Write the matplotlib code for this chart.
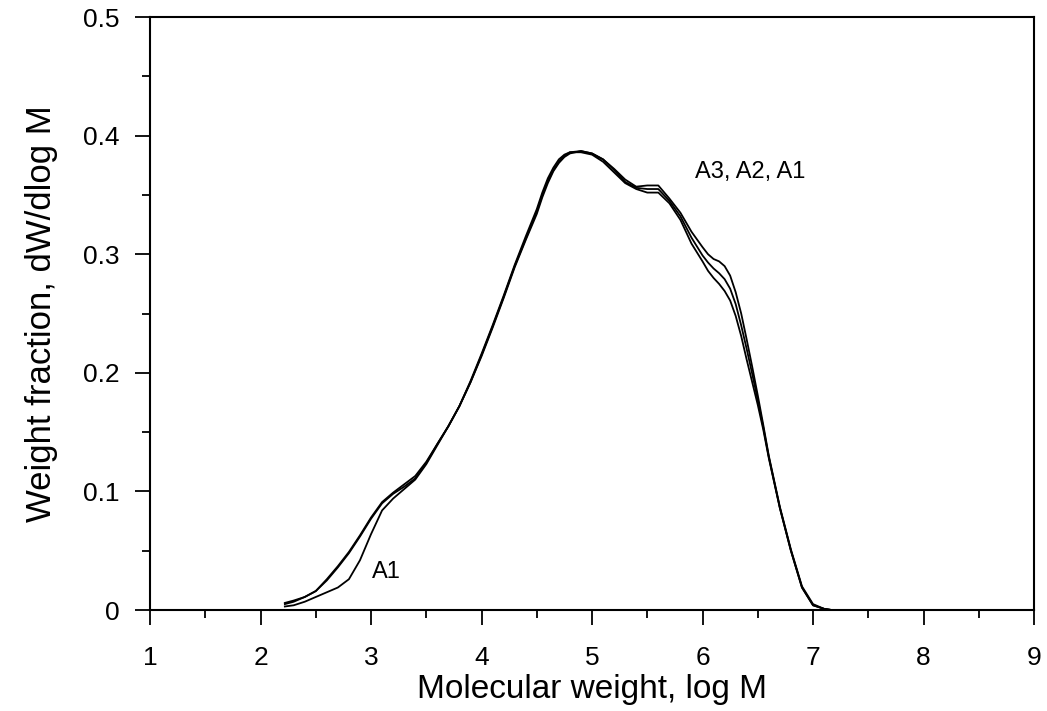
import numpy as np
import matplotlib
matplotlib.use("Agg")
import matplotlib.pyplot as plt
from matplotlib.ticker import MultipleLocator, FuncFormatter

plt.rcParams['font.family'] = ['Liberation Sans', 'DejaVu Sans']

# log M grid shared by the three curves
log_m = [2.22, 2.3, 2.4, 2.5, 2.6, 2.7, 2.8, 2.9, 3.0, 3.1, 3.2, 3.3, 3.4, 3.5,
         3.6, 3.7, 3.8, 3.9, 4.0, 4.1, 4.2, 4.3, 4.4, 4.5, 4.55, 4.6, 4.65,
         4.7, 4.75, 4.8, 4.9, 5.0, 5.1, 5.2, 5.3, 5.4, 5.5, 5.6, 5.7, 5.8,
         5.9, 6.0, 6.05, 6.1, 6.15, 6.2, 6.25, 6.3, 6.35, 6.4, 6.45, 6.5,
         6.55, 6.6, 6.7, 6.8, 6.9, 7.0, 7.1, 7.17]

a3 = [0.006, 0.008, 0.011, 0.016, 0.025, 0.036, 0.048, 0.062, 0.077, 0.090,
      0.098, 0.104, 0.111, 0.124, 0.140, 0.155, 0.172, 0.192, 0.214, 0.238,
      0.263, 0.289, 0.312, 0.334, 0.348, 0.360, 0.370, 0.377, 0.382, 0.385,
      0.387, 0.385, 0.380, 0.372, 0.363, 0.357, 0.358, 0.358, 0.347, 0.335,
      0.319, 0.306, 0.300, 0.296, 0.294, 0.290, 0.282, 0.268, 0.250, 0.228,
      0.205, 0.181, 0.156, 0.130, 0.087, 0.051, 0.020, 0.005, 0.001, 0.0]

a2 = [0.005, 0.007, 0.011, 0.016, 0.026, 0.037, 0.049, 0.063, 0.078, 0.091,
      0.099, 0.106, 0.113, 0.125, 0.140, 0.155, 0.172, 0.192, 0.215, 0.239,
      0.264, 0.290, 0.313, 0.336, 0.350, 0.362, 0.371, 0.378, 0.383, 0.386,
      0.387, 0.385, 0.380, 0.371, 0.361, 0.356, 0.355, 0.355, 0.345, 0.332,
      0.314, 0.299, 0.293, 0.288, 0.284, 0.279, 0.271, 0.258, 0.240, 0.220,
      0.199, 0.177, 0.154, 0.129, 0.086, 0.050, 0.019, 0.004, 0.001, 0.0]

a1 = [0.003, 0.004, 0.007, 0.011, 0.015, 0.019, 0.026, 0.042, 0.064, 0.084,
      0.094, 0.102, 0.110, 0.123, 0.139, 0.155, 0.172, 0.193, 0.216, 0.240,
      0.265, 0.291, 0.315, 0.338, 0.352, 0.364, 0.373, 0.380, 0.384, 0.386,
      0.386, 0.384, 0.378, 0.369, 0.360, 0.355, 0.352, 0.352, 0.343, 0.329,
      0.309, 0.294, 0.286, 0.280, 0.275, 0.269, 0.261, 0.248, 0.231, 0.211,
      0.192, 0.173, 0.152, 0.128, 0.086, 0.050, 0.019, 0.004, 0.001, 0.0]

fig = plt.figure(figsize=(10.47, 7.11), dpi=100)
ax = fig.add_axes([0.1433, 0.142, 0.8443, 0.834])

for y in (a3, a2, a1):
    ax.plot(log_m, y, color='black', lw=1.3)

ax.text(5.93, 0.369, 'A3, A2, A1', fontsize=17, va='center', ha='left')
ax.text(3.01, 0.032, 'A1', fontsize=17, va='center', ha='left')

ax.set_xlim(1, 9)
ax.set_ylim(0, 0.5)
ax.xaxis.set_major_locator(MultipleLocator(1))
ax.xaxis.set_minor_locator(MultipleLocator(0.5))
ax.yaxis.set_major_locator(MultipleLocator(0.1))
ax.yaxis.set_minor_locator(MultipleLocator(0.05))
ax.yaxis.set_major_formatter(FuncFormatter(lambda v, p: '0' if abs(v) < 1e-9 else f'{v:.1f}'))

ax.tick_params(which='major', direction='out', length=11, width=1.3, labelsize=19,
               top=False, right=False)
ax.tick_params(which='minor', direction='out', length=5.5, width=1.3, top=False, right=False)
ax.tick_params(axis='x', which='major', pad=15)
ax.tick_params(axis='y', which='major', pad=11)
for s in ax.spines.values():
    s.set_linewidth(1.5)

ax.set_xlabel('Molecular weight, log M', fontsize=24, labelpad=3)
ax.set_ylabel('Weight fraction, dW/dlog M', fontsize=25, labelpad=18)

fig.savefig('out.png', dpi=100)
